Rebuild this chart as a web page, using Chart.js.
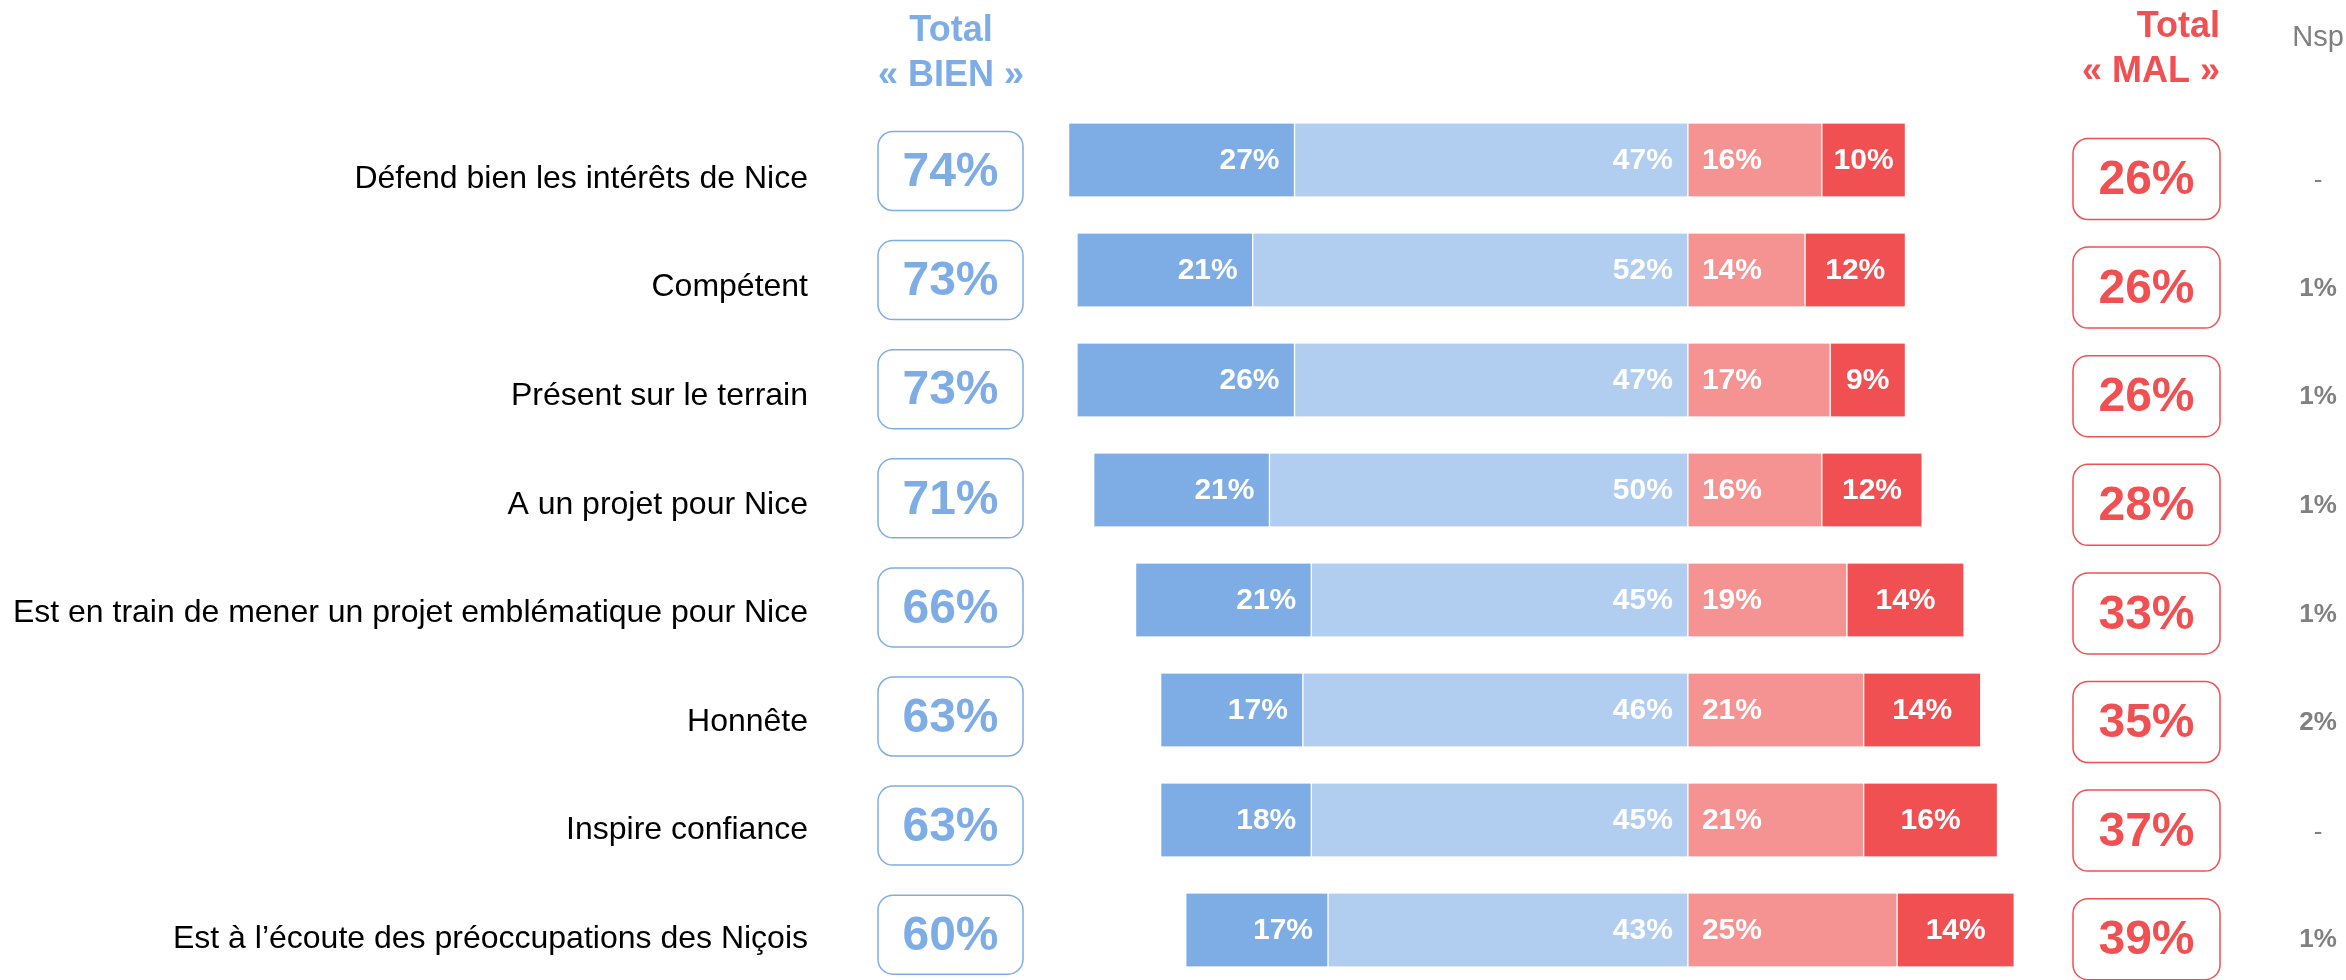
<!DOCTYPE html>
<html lang="fr">
<head>
<meta charset="UTF-8">
<title>Image du maire de Nice</title>
<script src="https://cdn.jsdelivr.net/npm/chart.js@4.4.1/dist/chart.umd.min.js"></script>
<style>
  html, body { margin: 0; padding: 0; background: #fff; overflow: hidden; }
  canvas { display: block; }
</style>
</head>
<body>
<canvas id="barChart" width="2346" height="980"></canvas>
<script>
// Items and answers (%)
const categories = [
  'Défend bien les intérêts de Nice',
  'Compétent',
  'Présent sur le terrain',
  'A un projet pour Nice',
  'Est en train de mener un projet emblématique pour Nice',
  'Honnête',
  'Inspire confiance',
  'Est à l’écoute des préoccupations des Niçois'
];
const tresBien = [27, 21, 26, 21, 21, 17, 18, 17];
const plutotBien = [47, 52, 47, 50, 45, 46, 45, 43];
const plutotMal = [16, 14, 17, 16, 19, 21, 21, 25];
const tresMal = [10, 12, 9, 12, 14, 14, 16, 14];
const totalBien = [74, 73, 73, 71, 66, 63, 63, 60];
const totalMal = [26, 26, 26, 28, 33, 35, 37, 39];
const nsp = [null, 1, 1, 1, 1, 2, null, 1];

const FONT = "'Liberation Sans', Arial, sans-serif";
const BLUE_DARK = '#7eade6';
const BLUE_LIGHT = '#b1cdf0';
const RED_LIGHT = '#f59292';
const RED_DARK = '#f05052';
const GREY = '#808080';

// ✅ Percent labels inside the bars
const barLabels = {
  id: 'barLabels',
  afterDatasetsDraw(chart) {
    const ctx = chart.ctx;
    ctx.save();
    ctx.font = `bold 30px ${FONT}`;
    ctx.fillStyle = '#fff';
    ctx.textBaseline = 'middle';
    chart.data.datasets.forEach((ds, d) => {
      chart.getDatasetMeta(d).data.forEach((bar, i) => {
        const left = Math.min(bar.x, bar.base);
        const right = Math.max(bar.x, bar.base);
        const txt = Math.abs(ds.data[i]) + '%';
        if (ds.labelAlign === 'end') {
          ctx.textAlign = 'right';
          ctx.fillText(txt, right - 15, bar.y + 1);
        } else if (ds.labelAlign === 'start') {
          ctx.textAlign = 'left';
          ctx.fillText(txt, left + 14, bar.y + 1);
        } else {
          ctx.textAlign = 'center';
          ctx.fillText(txt, (left + right) / 2, bar.y + 1);
        }
      });
    });
    ctx.restore();
  }
};

function roundBox(ctx, cx, cy, w, h, color) {
  ctx.beginPath();
  ctx.roundRect(cx - w / 2, cy - h / 2, w, h, 15);
  ctx.lineWidth = 1.5;
  ctx.strokeStyle = color;
  ctx.stroke();
}

// ✅ Row names, total boxes and Nsp column
const sideColumns = {
  id: 'sideColumns',
  afterDraw(chart) {
    const ctx = chart.ctx;
    const yAxis = chart.scales.y;
    ctx.save();
    ctx.textBaseline = 'middle';

    // headers
    ctx.font = `bold 36px ${FONT}`;
    ctx.fillStyle = BLUE_DARK;
    ctx.textAlign = 'center';
    ctx.fillText('Total', 951, 31);
    ctx.fillText('« BIEN »', 951, 76);
    ctx.fillStyle = RED_DARK;
    ctx.textAlign = 'right';
    ctx.fillText('Total', 2220, 27);
    ctx.fillText('« MAL »', 2220, 72);
    ctx.font = `29px ${FONT}`;
    ctx.fillStyle = GREY;
    ctx.textAlign = 'center';
    ctx.fillText('Nsp', 2318, 38);

    categories.forEach((name, i) => {
      const yRow = yAxis.getPixelForValue(i);
      const yText = yRow + 19 - i * 1.4;
      const yBien = yRow + 11 - i * 0.9;

      ctx.font = `32px ${FONT}`;
      ctx.fillStyle = '#000';
      ctx.textAlign = 'right';
      ctx.fillText(name, 808, yText);

      roundBox(ctx, 950.5, yBien, 145, 79, BLUE_DARK);
      ctx.font = `bold 48px ${FONT}`;
      ctx.fillStyle = BLUE_DARK;
      ctx.textAlign = 'center';
      ctx.fillText(totalBien[i] + '%', 950.5, yBien + 2);

      roundBox(ctx, 2146.5, yText, 147, 81, RED_DARK);
      ctx.fillStyle = RED_DARK;
      ctx.fillText(totalMal[i] + '%', 2146.5, yText + 2);

      ctx.fillStyle = GREY;
      if (nsp[i] === null) {
        ctx.font = `26px ${FONT}`;
        ctx.fillText('-', 2318, yText + 2);
      } else {
        ctx.font = `bold 26px ${FONT}`;
        ctx.fillText(nsp[i] + '%', 2318, yText + 1);
      }
    });
    ctx.restore();
  }
};

function segment(label, values, color, labelAlign) {
  return {
    label,
    data: values,
    backgroundColor: color,
    borderColor: '#fff',
    borderWidth: { top: 0, bottom: 0, left: 1, right: 1 },
    borderSkipped: false,
    stack: 'opinion',
    clip: false,
    labelAlign
  };
}

// ✅ Chart
new Chart(document.getElementById('barChart'), {
  type: 'bar',
  data: {
    labels: categories,
    datasets: [
      segment('Plutôt bien', plutotBien.map(v => -v), BLUE_LIGHT, 'end'),
      segment('Très bien', tresBien.map(v => -v), BLUE_DARK, 'end'),
      segment('Plutôt mal', plutotMal, RED_LIGHT, 'start'),
      segment('Très mal', tresMal, RED_DARK, 'center')
    ]
  },
  options: {
    indexAxis: 'y',
    responsive: false,
    devicePixelRatio: 1,
    animation: false,
    datasets: { bar: { barThickness: 73 } },
    layout: { padding: { left: 851, right: 156, top: 160, bottom: 50 } },
    plugins: {
      legend: { display: false },
      tooltip: { enabled: false }
    },
    scales: {
      x: { stacked: true, min: -100, max: 60, display: false },
      y: { stacked: true, offset: false, display: false }
    }
  },
  plugins: [barLabels, sideColumns]
});
</script>
</body>
</html>
